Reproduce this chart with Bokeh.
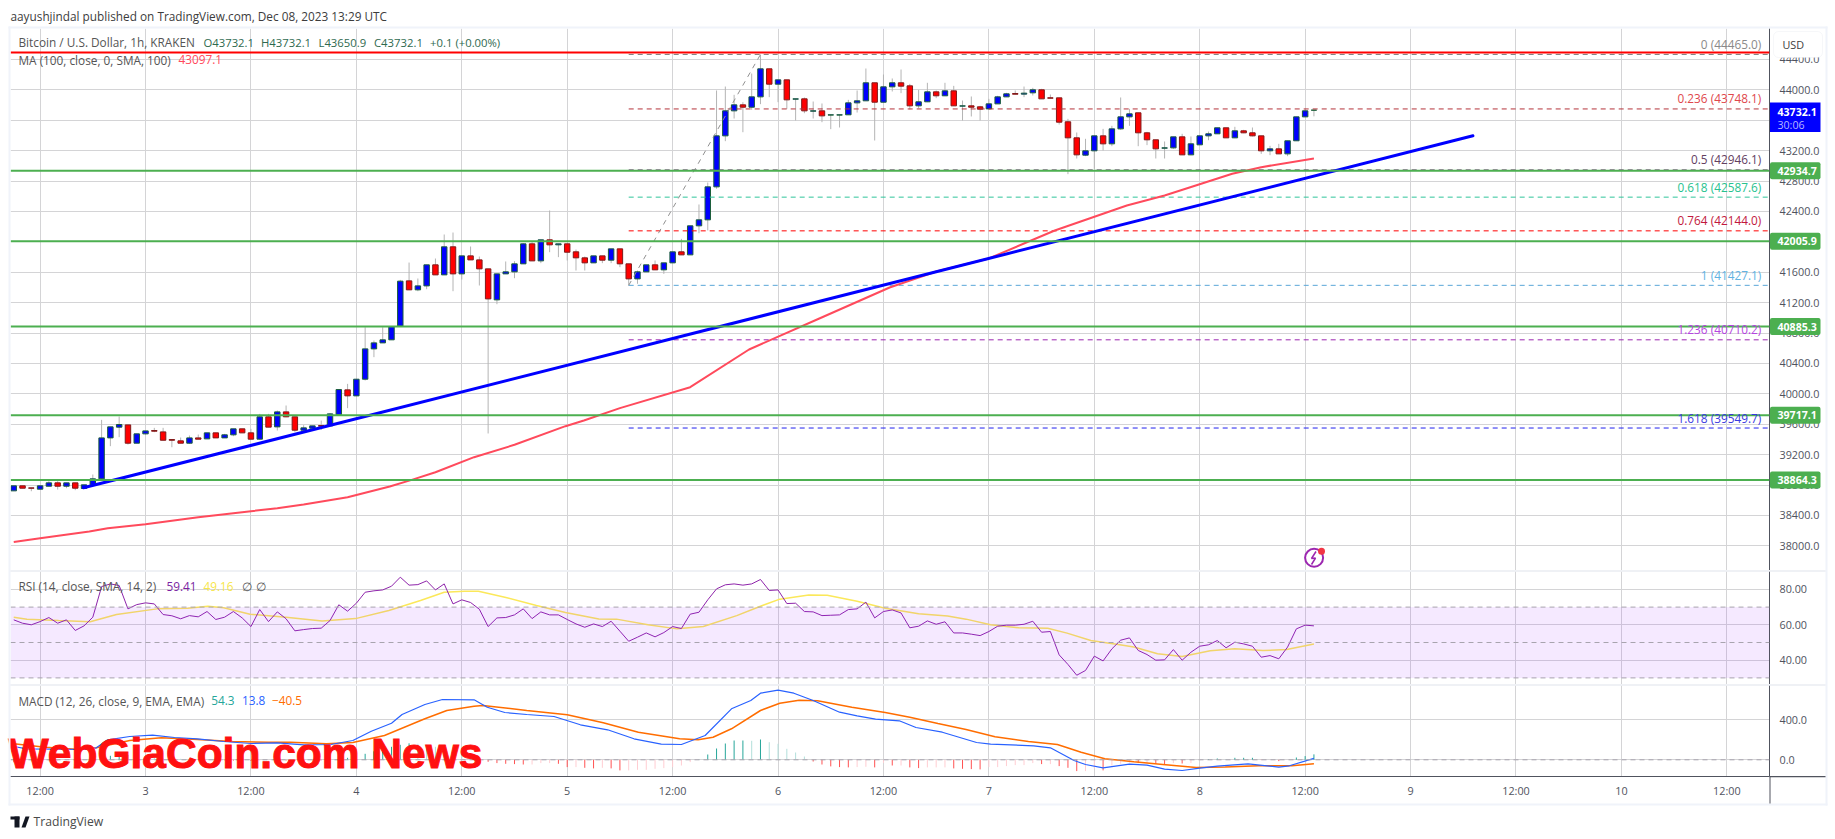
from bokeh.plotting import figure
from bokeh.layouts import column
from bokeh.models import Range1d, FixedTicker, Label, BoxAnnotation, Span
from bokeh.core.properties import value
from bokeh.embed import file_html
from bokeh.resources import INLINE

opens = [38723,38789,38762,38745,38784,38828,38784,38828,38754,38802,
38881,39420,39561,39591,39350,39473,39517,39499,39398,39381,
39350,39420,39407,39486,39420,39460,39539,39486,39403,39697,
39565,39762,39697,39521,39547,39582,39578,39725,40052,39973,
40192,40591,40670,40710,40890,41486,41368,41420,41697,41565,
41934,41578,41815,41762,41644,41236,41578,41605,41710,41973,
41749,42026,41960,41973,41868,41789,41723,41815,41758,41907,
41710,41512,41605,41697,41631,41723,41868,41828,42210,42289,
42723,43394,43723,43802,43771,43907,44276,44074,44131,43877,
43881,43719,43723,43667,43667,43671,43828,43855,44092,43837,
44039,44092,44052,43789,43842,43973,43921,43986,43785,43789,
43776,43749,43815,43907,43951,43943,43960,44000,43894,43894,
43579,43368,43140,43197,43394,43289,43486,43644,43697,43434,
43342,43232,43236,43381,43144,43276,43394,43421,43500,43368,
43460,43434,43394,43197,43223,43157,43329,43644,43732.1]
highs = [38789,38789,38762,38793,38850,38850,38828,38828,38802,38938,
39657,39565,39701,39591,39473,39512,39552,39552,39398,39425,
39451,39464,39486,39486,39473,39539,39539,39539,39736,39736,
39780,39846,39697,39587,39578,39648,39745,40056,40131,40192,
40876,40701,40876,40885,41499,41727,41517,41697,41780,42096,
42122,41815,41938,41806,41644,41578,41741,41745,41982,41995,
42026,42412,41973,41973,41898,41806,41815,41815,41907,41907,
41710,41622,41697,41754,41723,41868,42039,42210,42491,42780,
43991,44043,43934,43837,44214,44465,44276,44135,44131,43881,
43899,43846,43820,43671,43671,43868,43991,44280,44092,44201,
44149,44267,44078,43999,44092,43991,44092,44052,43859,43912,
43789,43881,43921,43960,43991,44043,44026,44013,43938,43894,
43618,43438,43355,43394,43486,43526,43899,43750,43697,43447,
43342,43320,43381,43421,43386,43394,43451,43500,43500,43513,
43473,43504,43394,43263,43289,43329,43644,43750,43732.1]
lows = [38723,38758,38718,38745,38784,38740,38758,38732,38754,38793,
38881,39311,39429,39332,39350,39464,39495,39389,39297,39350,
39341,39403,39407,39420,39420,39442,39486,39403,39394,39561,
39517,39692,39499,39504,39517,39525,39578,39725,39811,39973,
40175,40482,40670,40710,40890,41368,41350,41376,41565,41565,
41350,41504,41762,41425,39478,41179,41578,41521,41710,41749,
41719,41863,41798,41754,41622,41622,41723,41719,41719,41666,
41425,41447,41605,41631,41578,41723,41828,41828,42113,42149,
42697,43324,43622,43442,43736,43811,43903,43837,43749,43596,
43692,43622,43574,43482,43504,43671,43701,43855,43333,43837,
43978,43956,43741,43758,43838,43890,43921,43789,43596,43649,
43596,43736,43815,43907,43942,43903,43925,43881,43890,43543,
42890,43096,43127,42960,43201,43258,43473,43526,43258,43272,
43096,43096,43223,43144,43140,43276,43337,43421,43368,43364,
43429,43386,43157,43140,43157,43127,43329,43640,43650.9]
closes = [38789,38758,38758,38789,38828,38784,38828,38758,38802,38881,
39420,39565,39596,39350,39473,39512,39508,39389,39389,39350,
39420,39403,39486,39420,39460,39539,39486,39403,39697,39561,
39762,39697,39521,39552,39578,39574,39736,40056,39973,40192,
40591,40670,40710,40885,41482,41368,41420,41697,41565,41934,
41578,41815,41762,41644,41249,41578,41605,41710,41973,41749,
42026,41960,41973,41863,41789,41723,41815,41758,41907,41710,
41512,41605,41697,41631,41723,41868,41828,42210,42289,42723,
43394,43723,43802,43771,43907,44276,44074,44131,43868,43881,
43723,43723,43657,43671,43671,43828,43855,44092,43837,44039,
44092,44048,43789,43842,43973,43921,43986,43789,43789,43771,
43745,43815,43907,43947,43942,43956,44000,43881,43890,43574,
43368,43144,43197,43394,43289,43486,43644,43684,43434,43342,
43223,43236,43381,43144,43289,43394,43421,43500,43368,43460,
43434,43394,43197,43223,43157,43329,43644,43723,43732.1]

ma_hours = [0,3,8.6,10.7,15,21,27,30,33,38,42.8,45.3,48,52.4,57,62.8,64.9,69,77,83.7,91.7,99.7,105,111,118.5,126.7,131,134.9,138.7,142,148]
ma_values = [38050,38100,38188,38232,38284,38376,38455,38495,38543,38639,38780,38868,38968,39166,39329,39574,39649,39811,40087,40583,40991,41399,41609,41781,42149,42478,42609,42754,42895,42982,43097.1]

rsi_values = [62.8,60.9,60.0,61.8,64.1,60.9,62.8,56.8,59.4,64.3,81.6,83.1,82.2,69.0,71.4,72.4,71.8,65.8,65.1,63.4,
65.2,64.5,67.5,63.0,64.3,67.5,63.9,59.0,68.6,61.8,67.3,63.4,56.6,57.3,57.9,58.1,62.4,71.3,67.7,72.2,
78.4,79.2,79.7,81.8,86.9,82.4,82.7,84.8,79.7,83.1,71.8,74.1,72.6,68.8,59.0,63.9,64.1,65.6,69.0,63.5,
67.3,65.6,65.6,63.0,60.5,58.6,60.5,59.0,62.0,56.4,50.7,53.0,55.4,53.2,55.6,59.0,57.9,66.0,67.1,
74.1,80.3,82.6,83.1,82.4,83.1,85.6,79.4,79.7,72.0,72.2,67.5,67.3,65.2,65.4,65.6,68.6,69.0,72.8,63.9,
67.5,68.4,66.7,58.3,59.2,62.2,60.3,61.7,55.4,55.4,54.7,53.9,56.2,59.2,59.8,59.8,60.3,62.0,55.8,56.2,
43.0,37.6,31.5,34.2,42.3,39.6,46.4,51.3,52.6,45.5,43.2,40.0,40.2,46.0,40.0,44.5,47.9,48.7,51.1,47.0,
50.2,49.2,47.9,41.7,42.6,40.8,47.4,57.7,59.8,59.41]

rsi_ma_hours = [0,1.5,5.1,8.7,11.7,16.3,19.8,22.1,23.9,26.9,31,35.1,38.9,42.7,46.3,49,51.3,52.9,55.9,59.5,62.8,66.6,68.6,72.2,75.5,78.5,82.3,85,87.2,90.5,92.6,96,99.2,103,106.3,108.4,111.2,114.4,117.7,119.9,122.6,125.9,127.5,130.2,133,136.2,139,142.2,144.9,148]
rsi_ma_values = [64.3,63.2,62.4,61.7,65.8,69.0,69.4,70.5,69.6,66.0,64.3,62.2,63.5,68.1,73.7,78.4,79.0,79.0,75.6,70.9,66.9,63.3,63.2,60.0,57.7,59.0,65.2,70.5,74.5,76.9,76.7,73.3,69.4,66.2,65.0,63.2,60.0,58.3,58.1,55.3,51.1,48.7,47.5,43.6,42.1,45.3,46.4,45.5,46.0,49.16]

macd_hours = [0,1.5,4.6,8.1,9.4,10.7,13.2,15.8,18.3,20.9,23.9,27,30,33,36.1,38.6,40.7,43,44.2,46.8,48.8,52.4,53.9,55.9,58.4,61.5,64.5,67.6,70.6,73.7,76,78.7,81.7,83.9,85,87,88.8,91,94,96,98.1,100.8,102.7,105.7,109.6,111.2,116.1,118,120.7,122,124,127,129,131,133,135,137,140.5,144,145.2,148]
macd_values = [133,110,106,103,120,200,233,246,223,210,183,163,170,150,153,193,286,366,453,553,603,600,526,473,453,433,350,300,210,156,153,243,510,593,666,696,666,593,476,440,406,390,323,276,173,156,140,120,-7,-47,-80,-43,-53,-93,-107,-83,-63,-40,-73,-60,13.8]
signal_hours = [0,3.6,7.1,9.4,13.2,16.8,20.9,24.9,29,31.5,35.6,38.6,42.2,46.8,49.3,52.4,53.4,58.4,63,67.1,71.1,75.8,77.9,79.6,81.7,85,87.2,89.4,91.5,95.4,99.2,102,105.2,108.4,111.7,115.5,118.8,121.5,124.2,127.5,130.8,134.6,137.9,141.7,145.5,148]
signal_values = [160,126,106,120,193,220,203,183,176,176,160,173,243,410,493,536,543,493,450,370,276,210,200,226,310,493,566,596,590,526,473,426,363,303,230,183,153,76,10,-20,-47,-77,-73,-60,-60,-40.5]
hist_values = [-25,-25,-20,-15,-15,-10,-5,-5,0,5,20,40,45,50,45,35,28,20,15,10,8,4,2,-2,-5,-8,-10,-12,-8,-6,-5,-8,-10,-12,-10,-8,-5,8,20,40,
60,85,110,130,150,165,160,150,130,120,100,70,40,-5,-20,-33,-40,-43,-47,-47,-33,-33,-40,-73,-73,-80,-86,-80,-86,-106,-106,-100,-100,
-90,-83,-73,-57,-23,2,53,113,163,193,193,190,203,176,160,110,73,33,-17,-47,-66,-73,-76,-73,-70,-76,-30,-57,-57,-76,-83,-76,-76,-76,
-86,-90,-93,-96,-73,-73,-63,-53,-53,-33,-43,-43,-63,-80,-113,-113,-86,-106,-57,-40,-27,-33,-33,-40,-47,-33,-37,-33,-7,7,13,7,20,20,20,-3,-3,-13,-1,23,37,54.3]

green_levels = [42934.7, 42005.9, 40885.3, 39717.1, 38864.3]
green_text = ["42934.7", "42005.9", "40885.3", "39717.1", "38864.3"]
resistance_level = 44491
fib_levels = [44465.0, 43748.1, 42946.1, 42587.6, 42144.0, 41427.1, 40710.2, 39549.7]
fib_text = ["0 (44465.0)", "0.236 (43748.1)", "0.5 (42946.1)", "0.618 (42587.6)", "0.764 (42144.0)", "1 (41427.1)", "1.236 (40710.2)", "1.618 (39549.7)"]
fib_line = ["#808080", "#b5333a", "#6a3d6e", "#2fc49a", "#ff0000", "#5aa7d8", "#9c27b0", "#2222ee"]
fib_color = ["#8a8a8a", "#e0474c", "#63405f", "#27c28f", "#c2183d", "#62b2e2", "#b545e0", "#3a3ae0"]
fib_swing_hours = [70, 85]
fib_swing_prices = [41427.1, 44465.0]
trend_hours = [7.94, 166.1]
trend_prices = [38763, 43395]

price_ticks = [38000 + 400 * k for k in range(17)]
rsi_ticks = [40, 60, 80]
macd_ticks = [0, 400]
time_ticks = [3, 15, 27, 39, 51, 63, 75, 87, 99, 111, 123, 135, 147, 159, 171, 183, 195]
time_labels = ["12:00", "3", "12:00", "4", "12:00", "5", "12:00", "6", "12:00", "7", "12:00", "8", "12:00", "9", "12:00", "10", "12:00"]

FONT = "Open Sans"
TXT = "#50535e"
GRID = "#d4d4d6"
STRIP = "#f0f3fa"
SEP = "#e0e3eb"
AX = "#50535e"
AXIS_SIZE = "10.8px"
TEXT_SIZE = "11.8px"


def X(px):
    return (px - 13.25) / 8.785


def YM(py):
    return 44000 - (py - 89.3) / 0.076


def YR(py):
    return 60 - (py - 624.3) / 1.77


def YC(py):
    return (759.3 - py) * 10


def make(height, border_top, border_bottom, ymin, ymax, yticks, fmt, xaxis=False):
    p = figure(width=1827, height=height, output_backend="svg", toolbar_location=None,
               x_range=Range1d(X(10), X(1769)), y_range=Range1d(ymin, ymax),
               min_border_left=10, min_border_right=58, min_border_top=border_top,
               min_border_bottom=border_bottom, x_axis_location="below" if xaxis else None,
               y_axis_location="right",
               background_fill_color="white", border_fill_color="white", outline_line_color=None)
    y = p.yaxis[0]
    y.ticker = FixedTicker(ticks=yticks)
    y.major_label_overrides = {t: fmt % t for t in yticks}
    y.major_tick_line_color = None
    y.minor_tick_line_color = None
    y.axis_line_color = AX
    y.major_label_standoff = 4
    y.major_label_text_font = FONT
    y.major_label_text_font_size = AXIS_SIZE
    y.major_label_text_color = TXT
    p.ygrid[0].ticker = FixedTicker(ticks=yticks)
    p.xgrid[0].ticker = FixedTicker(ticks=time_ticks)
    p.ygrid[0].grid_line_color = GRID
    p.xgrid[0].grid_line_color = GRID
    if xaxis:
        a = p.xaxis[0]
        a.ticker = FixedTicker(ticks=time_ticks)
        a.major_label_overrides = dict(zip(time_ticks, time_labels))
        a.major_tick_line_color = None
        a.minor_tick_line_color = None
        a.axis_line_color = AX
        a.major_label_standoff = 0
        a.major_label_text_font = FONT
        a.major_label_text_font_size = AXIS_SIZE
        a.major_label_text_color = TXT
    return p


# ---------- main pane ----------
main = make(570, 28, 0, YM(570), YM(28), price_ticks, "%.1f")
hours = list(range(len(opens)))
up = [c >= o for o, c in zip(opens, closes)]
main.segment(hours, lows, hours, highs, line_color="#b4b4b4", line_width=1)
main.vbar([h for h, u in zip(hours, up) if u], 0.62, [o for o, u in zip(opens, up) if u], [c for c, u in zip(closes, up) if u],
          fill_color="#0000ff", line_color="#1b5e3a", line_width=1)
main.vbar([h for h, u in zip(hours, up) if not u], 0.62, [c for c, u in zip(closes, up) if not u], [o for o, u in zip(opens, up) if not u],
          fill_color="#ff0000", line_color="#7f1a1a", line_width=1)
main.segment([fib_swing_hours[0]] * len(fib_levels), fib_levels, [X(1769)] * len(fib_levels), fib_levels,
             line_color=fib_line, line_width=1, line_dash="5 4")
main.line(fib_swing_hours, fib_swing_prices, line_color="#909090", line_width=1, line_dash="5 5")
main.line(ma_hours, ma_values, line_color="#ff4a5c", line_width=2)
main.line(trend_hours, trend_prices, line_color="#0000ff", line_width=3, line_cap="round")
for lv in green_levels:
    main.add_layout(Span(location=lv, dimension="width", line_color="#4caf50", line_width=2))
main.add_layout(Span(location=resistance_level, dimension="width", line_color="#ff0000", line_width=2))
for lv, t, c in zip(fib_levels, fib_text, fib_color):
    main.add_layout(Label(x=X(1760.7), y=lv, text=t, text_color=c, text_font=FONT, text_font_size=TEXT_SIZE,
                          text_align="right", text_baseline="middle", y_offset=10.5))
main.scatter([X(1313.6)], [YM(557.3)], size=18, fill_color="white", line_color="#9c27b0", line_width=2)
main.line([X(1315.5), X(1311), X(1315), X(1311)], [YM(551), YM(558), YM(557.5), YM(564)], line_color="#9c27b0", line_width=1.5)
main.scatter([X(1321)], [YM(550.7)], size=7, fill_color="#f23645", line_color=None)

# ---------- RSI pane ----------
rsi = make(114, 1, 0, YR(684), YR(571), rsi_ticks, "%.2f")
rsi.add_layout(BoxAnnotation(bottom=30, top=70, fill_color="#9c27ff", fill_alpha=0.1, line_color=None))
for lv in [70, 50, 30]:
    rsi.add_layout(Span(location=lv, dimension="width", line_color="#a8a4ae", line_width=1, line_dash="5 4"))
rsi.line(rsi_ma_hours, rsi_ma_values, line_color="#fbe85a", line_width=1.5)
rsi.line(list(range(len(rsi_values))), rsi_values, line_color="#8e24aa", line_width=1)

# ---------- MACD pane ----------
macd = make(146, 1, 54, YC(776), YC(685), macd_ticks, "%.1f", xaxis=True)
macd.add_layout(Span(location=0, dimension="width", line_color="#a8a4ae", line_width=1, line_dash="5 4"))
hist_colors = []
prev = 0
for h in hist_values:
    if h >= 0:
        hist_colors.append("#26a69a" if h >= prev else "#b2dfdb")
    else:
        hist_colors.append("#ffcdd2" if h >= prev else "#ff5252")
    prev = h
hist_hours = list(range(len(hist_values)))
macd.segment(hist_hours, [0] * len(hist_hours), hist_hours, hist_values, line_color=hist_colors, line_width=1)
macd.line(signal_hours, signal_values, line_color="#ff6d00", line_width=1.5)
macd.line(macd_hours, macd_values, line_color="#2962ff", line_width=1.2)

# ---------- transparent overlay in page pixels: legends, price tags, frame, footer ----------
over = figure(width=1835, height=830, output_backend="svg", toolbar_location=None,
              x_range=Range1d(0, 1835), y_range=Range1d(830, 0),
              x_axis_location=None, y_axis_location=None,
              min_border=0, outline_line_color=None, background_fill_alpha=0, border_fill_alpha=0,
              margin=(-830, 0, 0, 0), frame_align=False)
over.grid.visible = False


def label(px, py, text, color=TXT, size=TEXT_SIZE, align="left", bold=False):
    over.add_layout(Label(x=px, y=py, text=text, text_color=color, text_font_size=size, text_font=FONT,
                          text_align=align, text_baseline="middle",
                          text_font_style="bold" if bold else "normal"))


def box(l, r, t, b, color, **kw):
    over.add_layout(BoxAnnotation(left=l, right=r, top=t, bottom=b, fill_color=color, fill_alpha=1,
                                  line_color=kw.pop("line_color", None), **kw))


def py_price(p):
    return 89.3 + (44000 - p) * 0.076


label(10, 15, "aayushjindal published on TradingView.com, Dec 08, 2023 13:29 UTC", "#3c3c3c")
label(18, 41.7, "Bitcoin / U.S. Dollar, 1h, KRAKEN", "#555555")
for px, t in zip([203, 260.5, 318, 373.5, 429.6], ["O43732.1", "H43732.1", "L43650.9", "C43732.1", "+0.1 (+0.00%)"]):
    label(px, 41.7, t, "#2f6a4f", "11.3px")
label(18, 59, "MA (100, close, 0, SMA, 100)", "#555555")
label(178, 59, "43097.1", "#ff4a5c")

box(1773, 1822, 31, 57, "white", line_color=SEP, border_radius=5)
label(1782, 44, "USD", "#3c3c3c", AXIS_SIZE)
box(1769.5, 1820, 102, 131.5, "#0000ff")
label(1777, 111, "43732.1", "white", "10.6px", bold=True)
label(1777, 124, "30:06", "#b8b8ff", "10.6px")
for lv, t in zip(green_levels, green_text):
    y = py_price(lv)
    box(1769.5, 1820, y - 8.5, y + 8.5, "#4caf50", border_radius=2)
    label(1777, y, t, "white", "10.6px", bold=True)

label(18, 585.7, "RSI (14, close, SMA, 14, 2)", "#555555")
label(166, 585.7, "59.41", "#7b1fa2")
label(203, 585.7, "49.16", "#f7e64a")
label(241, 585.7, "\u2205", "#555555")
label(255, 585.7, "\u2205", "#555555")
label(18, 700, "MACD (12, 26, close, 9, EMA, EMA)", "#555555")
label(210.7, 700, "54.3", "#26a69a")
label(241.5, 700, "13.8", "#2962ff")
label(271.4, 700, "\u221240.5", "#ff6d00")

# frame strips and pane separators
box(8, 10, 26, 805, STRIP)
box(1825, 1827, 26, 805, STRIP)
box(8, 1827, 26, 28, STRIP)
box(8, 1827, 803, 805, STRIP)
box(10, 1825, 570, 571, SEP)
box(10, 1825, 684, 685, SEP)
box(1769, 1825, 775.6, 776.8, AX)
box(1769, 1770, 776, 803, AX)

over.text([8], [753], text=["WebGiaCoin.com News"], text_font=value("Liberation Sans"), text_font_size="42.5px",
          text_font_style="bold", text_color="#ff1010", text_outline_color="#ff1010", text_baseline="middle", text_align="left")

label(33, 821, "TradingView", "#4a4a4a", "12.2px")
box(10, 19, 816, 819, "#131722")
box(14, 19, 816, 827, "#131722")
over.patch([25, 29, 25, 21], [816, 816, 827, 827], fill_color="#131722", line_color=None)

page = column(main, rsi, macd, over, spacing=0)
open("out.html", "w").write(file_html(page, INLINE))
